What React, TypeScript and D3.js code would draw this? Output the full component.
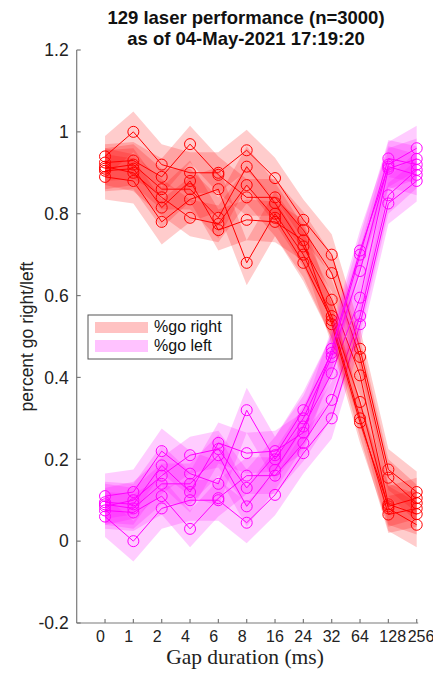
import React from "react";
import * as d3 from "d3";

const categories = ["0", "1", "2", "4", "6", "8", "16", "24", "32", "64", "128", "256"];
const yTicks = [-0.2, 0, 0.2, 0.4, 0.6, 0.8, 1, 1.2];

const goRight1 = [0.94, 1.0, 0.92, 0.9, 0.9, 0.955, 0.887, 0.785, 0.7, 0.47, 0.175, 0.12];
const goRight2 = [0.925, 0.93, 0.89, 0.97, 0.895, 0.84, 0.84, 0.76, 0.655, 0.45, 0.155, 0.093];
const goRight3 = [0.91, 0.92, 0.86, 0.86, 0.79, 0.915, 0.826, 0.72, 0.59, 0.405, 0.09, 0.066];
const goRight4 = [0.89, 0.88, 0.78, 0.835, 0.86, 0.68, 0.8, 0.7, 0.55, 0.34, 0.08, 0.04];
const goRight5 = [0.915, 0.9, 0.84, 0.79, 0.775, 0.87, 0.79, 0.68, 0.54, 0.3, 0.065, 0.08];
const goRight6 = [0.905, 0.91, 0.815, 0.88, 0.76, 0.785, 0.78, 0.735, 0.53, 0.29, 0.085, 0.105];

const goLeft1 = [0.06, 0.0, 0.08, 0.1, 0.1, 0.045, 0.113, 0.215, 0.3, 0.53, 0.825, 0.88];
const goLeft2 = [0.075, 0.07, 0.11, 0.03, 0.105, 0.16, 0.16, 0.24, 0.345, 0.55, 0.845, 0.907];
const goLeft3 = [0.09, 0.08, 0.14, 0.14, 0.21, 0.085, 0.174, 0.28, 0.41, 0.595, 0.91, 0.934];
const goLeft4 = [0.11, 0.12, 0.22, 0.165, 0.14, 0.32, 0.2, 0.3, 0.45, 0.66, 0.92, 0.96];
const goLeft5 = [0.085, 0.1, 0.16, 0.21, 0.225, 0.13, 0.21, 0.32, 0.46, 0.7, 0.935, 0.92];
const goLeft6 = [0.095, 0.09, 0.185, 0.12, 0.24, 0.215, 0.22, 0.265, 0.47, 0.71, 0.915, 0.895];

const bandHalfWidths = [0.05, 0.045, 0.05, 0.055, 0.045, 0.05];

const goRight = [goRight1, goRight2, goRight3, goRight4, goRight5, goRight6];
const goLeft = [goLeft1, goLeft2, goLeft3, goLeft4, goLeft5, goLeft6];

const RED = "#ff0000";
const MAG = "#ff00ff";

export default function App() {
  const W = 433, H = 679;
  const x = d3.scaleLinear().domain([-1, 11]).range([76.7, 416.7]);
  const y = d3.scaleLinear().domain([-0.2, 1.2]).range([623, 50]);
  const axisColor = "#7a7a7a";
  const sans = "'Liberation Sans', Arial, Helvetica, sans-serif";

  const line = d3.line<number>().x((_, i) => x(i)).y((v) => y(v));
  const area = (hw: number) =>
    d3.area<number>().x((_, i) => x(i)).y0((v) => y(v - hw)).y1((v) => y(v + hw));

  const renderSeries = (vals: number[], hw: number, color: string, key: string) => (
    <g key={key}>
      <path d={area(hw)(vals) || ""} fill={color} fillOpacity={0.2} stroke="none" />
      <path d={line(vals) || ""} fill="none" stroke={color} strokeWidth={1} />
      {vals.map((v, i) => (
        <circle key={i} cx={x(i)} cy={y(v)} r={5.5} fill="none" stroke={color} strokeWidth={1} />
      ))}
    </g>
  );

  return (
    <svg width={W} height={H} style={{ position: "absolute", left: 0, top: 0, background: "#fff" }}>
      <rect x={0} y={0} width={W} height={H} fill="#fff" />
      <text x={246} y={24} textAnchor="middle" fontFamily={sans} fontWeight="bold" fontSize={18.5} fill="#111">
        129 laser performance (n=3000)
      </text>
      <text x={246} y={45} textAnchor="middle" fontFamily={sans} fontWeight="bold" fontSize={18.5} fill="#111">
        as of 04-May-2021 17:19:20
      </text>

      {goRight.map((vals, s) => (
        <g key={"s" + s}>
          {renderSeries(vals, bandHalfWidths[s], RED, "r" + s)}
          {renderSeries(goLeft[s], bandHalfWidths[s], MAG, "l" + s)}
        </g>
      ))}

      <line x1={x(-1)} y1={y(-0.2)} x2={x(-1)} y2={y(1.2)} stroke={axisColor} strokeWidth={1.2} />
      <line x1={x(-1)} y1={y(-0.2)} x2={x(11) + 1.5} y2={y(-0.2)} stroke={axisColor} strokeWidth={1.2} />
      {yTicks.map((t) => (
        <g key={t}>
          <line x1={x(-1)} x2={x(-1) + 4} y1={y(t)} y2={y(t)} stroke={axisColor} strokeWidth={1.2} />
          <text x={x(-1) - 8} y={y(t)} dy="0.36em" textAnchor="end" fontFamily={sans} fontSize={17.5} fill="#222">
            {String(t)}
          </text>
        </g>
      ))}
      {categories.map((c, i) => (
        <g key={c}>
          <line x1={x(i)} x2={x(i)} y1={y(-0.2)} y2={y(-0.2) - 4} stroke={axisColor} strokeWidth={1.2} />
          <text x={x(i) - 9} y={642} textAnchor="start" fontFamily={sans} fontSize={16} fill="#222">
            {c}
          </text>
        </g>
      ))}

      <text
        transform={`translate(33, ${(y(-0.2) + y(1.2)) / 2}) rotate(-90)`}
        textAnchor="middle"
        fontFamily={sans}
        fontSize={17.5}
        fill="#222"
      >
        percent go right/left
      </text>

      <text x={245} y={664} textAnchor="middle" fontFamily="'Liberation Serif', 'Times New Roman', serif" fontSize={21.5} fill="#222">
        Gap duration (ms)
      </text>

      <rect x={88} y={315} width={144} height={44} fill="#fff" stroke="#555" strokeWidth={1} />
      <rect x={95} y={322} width={53} height={11} fill={RED} fillOpacity={0.24} />
      <rect x={95} y={340} width={53} height={12} fill={MAG} fillOpacity={0.24} />
      <text x={154} y={332} fontFamily={sans} fontSize={16} fill="#111">%go right</text>
      <text x={154} y={351} fontFamily={sans} fontSize={16} fill="#111">%go left</text>
    </svg>
  );
}
